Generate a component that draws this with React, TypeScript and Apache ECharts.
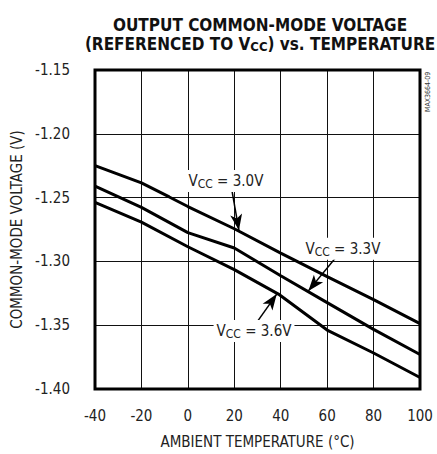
import React, { useEffect, useRef } from "react";
import * as echarts from "echarts";

const FONT = "'DejaVu Sans Condensed', 'Liberation Sans', Arial, sans-serif";

const xTicks = [-40, -20, 0, 20, 40, 60, 80, 100];
const yTicks = [-1.4, -1.35, -1.3, -1.25, -1.2, -1.15];

const temp30 = [-40, -20, -8, 0, 20, 40, 60, 80, 100];
const vcm30 = [-1.225, -1.2385, -1.2495, -1.257, -1.2744, -1.2935, -1.312, -1.33, -1.3487];

const temp33 = [-40, -20, 0, 20, 40, 60, 80, 100];
const vcm33 = [-1.241, -1.2577, -1.2775, -1.2895, -1.3113, -1.3323, -1.3533, -1.373];

const temp36 = [-40, -20, 0, 20, 39, 60, 80, 100];
const vcm36 = [-1.2538, -1.2692, -1.2885, -1.3064, -1.3256, -1.3538, -1.3718, -1.391];

const labelNames = ["3.0V", "3.3V", "3.6V"];
const labelPos = [
  [16.4, -1.2369],
  [66.8, -1.29],
  [28.5, -1.3546],
];
const arrowFrom = [
  [18.9, -1.2436],
  [64.1, -1.2962],
  [30.3, -1.3462],
];
const arrowTo = [
  [22.0, -1.2756],
  [51.9, -1.3231],
  [38.3, -1.3256],
];

function zip(xs: number[], ys: number[]) {
  return xs.map((x, i) => [x, ys[i]]);
}

export default function App() {
  const ref = useRef<HTMLDivElement>(null);
  useEffect(() => {
    if (!ref.current) return;
    const chart = echarts.init(ref.current, undefined, { renderer: "svg" });
    const lineSeries = (name: string, data: number[][]) => ({
      name,
      type: "line",
      data,
      showSymbol: false,
      symbol: "none",
      lineStyle: { color: "#000", width: 3 },
      z: 3,
    });
    const option: any = {
      animation: false,
      backgroundColor: "#fff",
      title: {
        text: "OUTPUT COMMON-MODE VOLTAGE\n(REFERENCED TO V{sub|CC}) vs. TEMPERATURE",
        left: 255,
        top: 10,
        textAlign: "center",
        textStyle: {
          fontFamily: FONT,
          fontWeight: "bold",
          fontSize: 17,
          color: "#111",
          lineHeight: 19,
          rich: {
            sub: {
              fontFamily: FONT,
              fontWeight: "bold",
              fontSize: 13,
              color: "#111",
              lineHeight: 19,
              verticalAlign: "bottom",
              padding: [7, 0, 0, 0],
            },
          },
        },
      },
      grid: {
        left: 95,
        right: 17,
        top: 70,
        bottom: 59,
        show: true,
        borderColor: "#000",
        borderWidth: 3,
        z: 4,
      },
      xAxis: {
        type: "value",
        min: -40,
        max: 100,
        interval: 20,
        name: "AMBIENT TEMPERATURE (°C)",
        nameLocation: "middle",
        nameGap: 45,
        nameTextStyle: { fontFamily: FONT, fontSize: 15, color: "#222" },
        axisLine: { show: false },
        axisTick: { show: false },
        axisLabel: {
          margin: 19,
          fontFamily: FONT,
          fontSize: 15,
          color: "#222",
          customValues: xTicks,
        },
        splitLine: { show: true, lineStyle: { color: "#111", width: 1 } },
      },
      yAxis: {
        type: "value",
        min: -1.4,
        max: -1.15,
        interval: 0.05,
        name: "COMMON-MODE VOLTAGE (V)",
        nameLocation: "middle",
        nameGap: 70,
        nameTextStyle: { fontFamily: FONT, fontSize: 15, color: "#222" },
        axisLine: { show: false },
        axisTick: { show: false },
        axisLabel: {
          margin: 25,
          fontFamily: FONT,
          fontSize: 15,
          color: "#222",
          padding: [0, 0, 6, 0],
          formatter: (v: number) => v.toFixed(2),
          customValues: yTicks,
        },
        splitLine: { show: true, lineStyle: { color: "#111", width: 1 } },
      },
      series: [
        lineSeries("VCC = 3.0V", zip(temp30, vcm30)),
        lineSeries("VCC = 3.3V", zip(temp33, vcm33)),
        lineSeries("VCC = 3.6V", zip(temp36, vcm36)),
        {
          type: "line",
          data: [],
          z: 5,
          markLine: {
            silent: true,
            symbol: ["none", "arrow"],
            symbolSize: [9, 16],
            lineStyle: { color: "#000", width: 1.5, type: "solid" },
            label: { show: false },
            data: arrowFrom.map((f, i) => [
              { coord: f },
              { coord: arrowTo[i] },
            ]),
          },
          markPoint: {
            silent: true,
            symbol: "rect",
            symbolSize: 0,
            label: {
              show: true,
              position: "inside",
              backgroundColor: "#fff",
              padding: [2, 3, 2, 3],
              fontFamily: FONT,
              fontSize: 15,
              color: "#222",
              formatter: (p: any) => "V{sub|CC} = " + p.name,
              rich: {
                sub: {
                  fontFamily: FONT,
                  fontSize: 12,
                  color: "#222",
                  verticalAlign: "bottom",
                  padding: [6, 0, 0, 0],
                },
              },
            },
            data: labelPos.map((p, i) => ({ name: labelNames[i], coord: p })),
          },
        },
      ],
      graphic: [
        {
          type: "text",
          x: 428,
          y: 112,
          rotation: Math.PI / 2,
          style: {
            text: "MAX3664-09",
            fontFamily: FONT,
            fontSize: 7,
            fill: "#333",
            textAlign: "left",
            textVerticalAlign: "middle",
          },
        },
      ],
    };
    chart.setOption(option);
    return () => chart.dispose();
  }, []);
  return (
    <div
      ref={ref}
      style={{ position: "fixed", left: 0, top: 0, width: 437, height: 454 }}
    />
  );
}
